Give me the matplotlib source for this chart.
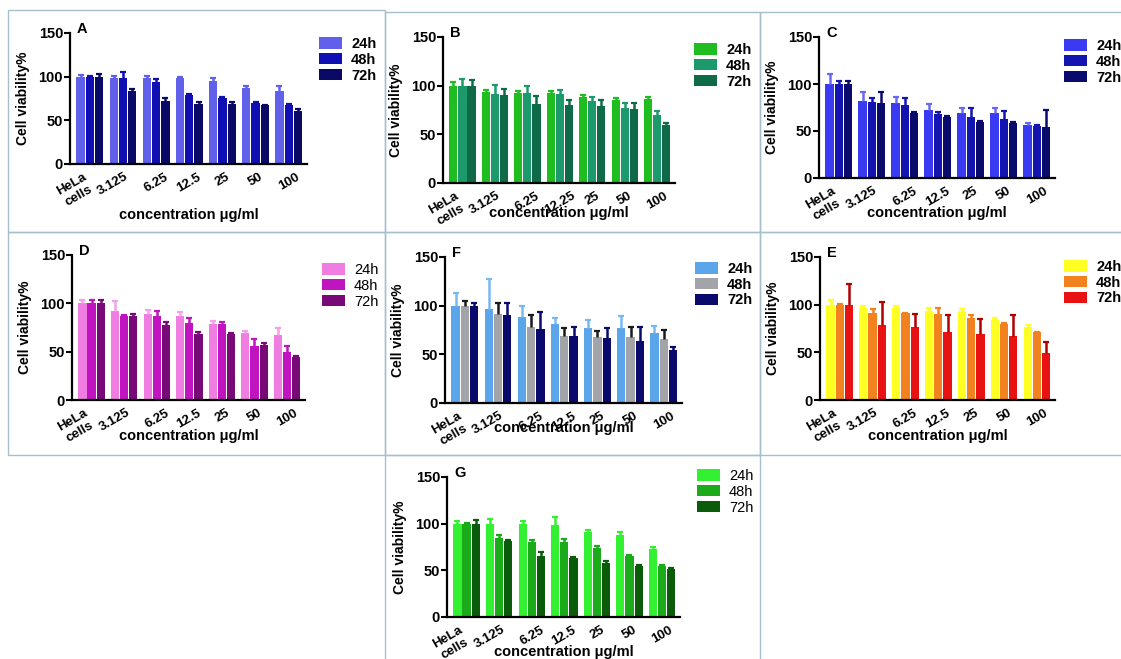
import numpy as np
import matplotlib
matplotlib.use("Agg")
import matplotlib.pyplot as plt
from matplotlib.patches import Rectangle
from matplotlib.transforms import ScaledTranslation

# --- data ---
categories = ["HeLa\ncells", "3.125", "6.25", "12.5", "25", "50", "100"]
categories_b = ["HeLa\ncells", "3.125", "6.25", "12.25", "25", "50", "100"]
times = ["24h", "48h", "72h"]

# rows: 24h, 48h, 72h
a_vals = [[100, 99, 99, 98, 95, 87, 84],
          [100, 98, 94, 79, 76, 70, 68],
          [100, 84, 72, 69, 69, 67, 61]]
a_err = [[2, 2, 2, 2, 4, 2, 5],
         [1, 7, 3, 1.5, 1, 1, 1],
         [3, 2, 3, 2, 1.5, 1, 1.5]]

b_vals = [[100, 93, 92, 92, 88, 85, 86],
          [100, 91, 92, 91, 84, 77, 70],
          [100, 90, 81, 80, 79, 76, 60]]
b_err = [[4, 3, 3, 3, 2, 2, 2],
         [7, 10, 8, 5, 4, 5, 4],
         [6, 7, 8, 5, 6, 6, 2]]

c_vals = [[100, 82, 80, 72, 69, 69, 56],
          [100, 81, 78, 68, 65, 63, 55],
          [100, 80, 69, 65, 60, 59, 54]]
c_err = [[11, 9, 6, 7, 5, 5, 3],
         [3, 4, 7, 2, 9, 8, 1],
         [3, 11, 1, 1, 1, 1, 18]]

d_vals = [[100, 92, 89, 87, 79, 69, 67],
          [100, 87, 87, 80, 79, 56, 50],
          [100, 87, 78, 68, 68, 57, 44]]
d_err = [[3, 10, 4, 4, 3, 2, 8],
         [3, 1, 5, 5, 2, 7, 6],
         [3, 2, 3, 2, 1, 2, 2]]

f_vals = [[100, 97, 88, 81, 77, 77, 72],
          [100, 91, 78, 69, 68, 68, 66],
          [100, 90, 76, 69, 67, 64, 54]]
f_err = [[13, 30, 12, 6, 8, 12, 7],
         [5, 12, 12, 8, 6, 10, 9],
         [3, 13, 18, 9, 10, 14, 4]]

e_vals = [[100, 96, 96, 93, 93, 84, 77],
          [100, 91, 91, 90, 86, 80, 71],
          [100, 79, 77, 71, 69, 67, 49]]
e_err = [[5, 3, 3, 3, 2, 2, 2],
         [1, 4, 0.5, 6, 3, 1, 0.5],
         [22, 24, 13, 18, 16, 22, 12]]

g_vals = [[100, 100, 100, 99, 91, 88, 73],
          [100, 85, 80, 80, 74, 65, 55],
          [100, 81, 65, 63, 58, 55, 51]]
g_err = [[3, 5, 3, 8, 2, 3, 2],
         [1, 3, 2, 4, 2, 1, 1],
         [4, 2, 5, 1, 2, 1, 1]]

W, H = 1121, 659
plt.rcParams["font.family"] = ["Liberation Sans", "DejaVu Sans"]

fig = plt.figure(figsize=(W / 100, H / 100), dpi=100)
fig.patch.set_facecolor("white")


def px_rect(left, top, right, bottom):
    return [left / W, 1 - bottom / H, (right - left) / W, (bottom - top) / H]


# panel frames (light blue-grey boxes)
frames = [(8, 10, 385, 232), (385, 12, 760, 232), (760, 12, 1125, 232),
          (8, 232, 385, 455), (385, 232, 760, 455), (760, 232, 1125, 455),
          (385, 455, 760, 665)]
for l, t, r, b in frames:
    x, y, w, h = px_rect(l, t, r, b)
    fig.patches.append(Rectangle((x, y), w, h, transform=fig.transFigure,
                                 fill=False, edgecolor="#a6bfcc", lw=1.0))

panels = [
    # letter, cats, vals, err, axes px (l, t, r, b), colors, err colors, legend px, bold legend, xlabel y px
    ("A", categories, a_vals, a_err, (70, 33, 307, 164),
     ["#6060ea", "#0f0fb4", "#0a0a66"], ["#6060ea", "#0f0fb4", "#0a0a66"], (319, 37), True, 215),
    ("B", categories_b, b_vals, b_err, (443, 37, 675, 183),
     ["#1fbd1f", "#1d9a6c", "#0f6b47"], ["#1fbd1f", "#1d9a6c", "#0f6b47"], (694, 43), True, 213),
    ("C", categories, c_vals, c_err, (819, 37, 1055, 178),
     ["#3a3af2", "#1414b0", "#0a0a6c"], ["#6a6af0", "#1414b0", "#0a0a6c"], (1064, 39), True, 213),
    ("D", categories, d_vals, d_err, (72, 255, 305, 400),
     ["#f07ee2", "#c014c0", "#780a78"], ["#f4a0ea", "#c014c0", "#780a78"], (322, 263), False, 436),
    ("F", categories, f_vals, f_err, (445, 257, 682, 403),
     ["#5ba6ea", "#a3a3aa", "#0a0a6c"], ["#7ab8f0", "#1a1a1a", "#0a0a6c"], (695, 262), True, 428),
    ("E", categories, e_vals, e_err, (820, 257, 1055, 400),
     ["#ffff24", "#f28220", "#e81212"], ["#ffff24", "#f28220", "#b00000"], (1064, 260), True, 436),
    ("G", categories, g_vals, g_err, (447, 477, 680, 617),
     ["#33f033", "#1aaa1a", "#0a5c0a"], ["#33f033", "#1aaa1a", "#0a5c0a"], (697, 469), False, 652),
]

x = np.arange(len(categories))
width = 0.25
offsets = [-0.28, 0, 0.28]
# the first two tick labels sit left of their groups in the reference (pixels)
label_shift = [-15, -10, 0, 0, 0, 0, 0]

for letter, cats, vals, errs, (l, t, r, b), colors, ecolors, (lx, ly), bold_leg, xl_y in panels:
    ax = fig.add_axes(px_rect(l, t, r, b))
    handles = []
    for i in range(3):
        bars = ax.bar(x + offsets[i], vals[i], width, color=colors[i],
                      label=times[i], zorder=2)
        handles.append(bars)
        line, caps, barcols = ax.errorbar(x + offsets[i], vals[i],
                                          yerr=[np.zeros(len(errs[i])), errs[i]],
                                          fmt="none", ecolor=ecolors[i], elinewidth=1.8,
                                          capsize=2.2, capthick=1.6, zorder=3)
        caps[0].set_visible(False)

    ax.set_xlim(-0.6, 6.55)
    ax.set_ylim(0, 150)
    ax.set_yticks([0, 50, 100, 150])
    ax.set_xticks(x)
    ax.set_xticklabels(cats, rotation=30, ha="center", va="top",
                       fontsize=9.5, fontweight="bold", multialignment="center")
    ax.tick_params(axis="x", length=0, pad=5)
    ax.tick_params(axis="y", length=4, width=1.5, labelsize=10.5, pad=1)
    for lab, dx in zip(ax.get_xticklabels(), label_shift):
        lab.set_transform(lab.get_transform() + ScaledTranslation(dx / 100, 0, fig.dpi_scale_trans))
    for lab in ax.get_yticklabels():
        lab.set_fontweight("bold")
    for s in ["top", "right"]:
        ax.spines[s].set_visible(False)
    for s in ["left", "bottom"]:
        ax.spines[s].set_linewidth(1.6)
    ax.set_facecolor("none")

    ax.set_ylabel("Cell viability%", fontsize=10, fontweight="bold")
    ax.yaxis.set_label_coords(-40 / (r - l), 0.5)
    ax.set_xlabel("concentration \u03bcg/ml", fontsize=10.5, fontweight="bold")
    ax.xaxis.set_label_coords(0.5, -(xl_y - b) / (b - t))
    ax.xaxis.label.set_va("center")

    ax.text(7 / (r - l), 1.0, letter, transform=ax.transAxes, fontsize=10.5,
            fontweight="bold", va="baseline", ha="left")

    fig.legend(handles=handles, labels=times, loc="upper left",
               bbox_to_anchor=(lx / W, 1 - ly / H), frameon=False,
               handlelength=1.6, handleheight=0.8, handletextpad=0.6,
               labelspacing=0.12, borderpad=0, borderaxespad=0,
               prop={"size": 10.5, "weight": "bold" if bold_leg else "normal"})

fig.savefig("out.png", dpi=100)
